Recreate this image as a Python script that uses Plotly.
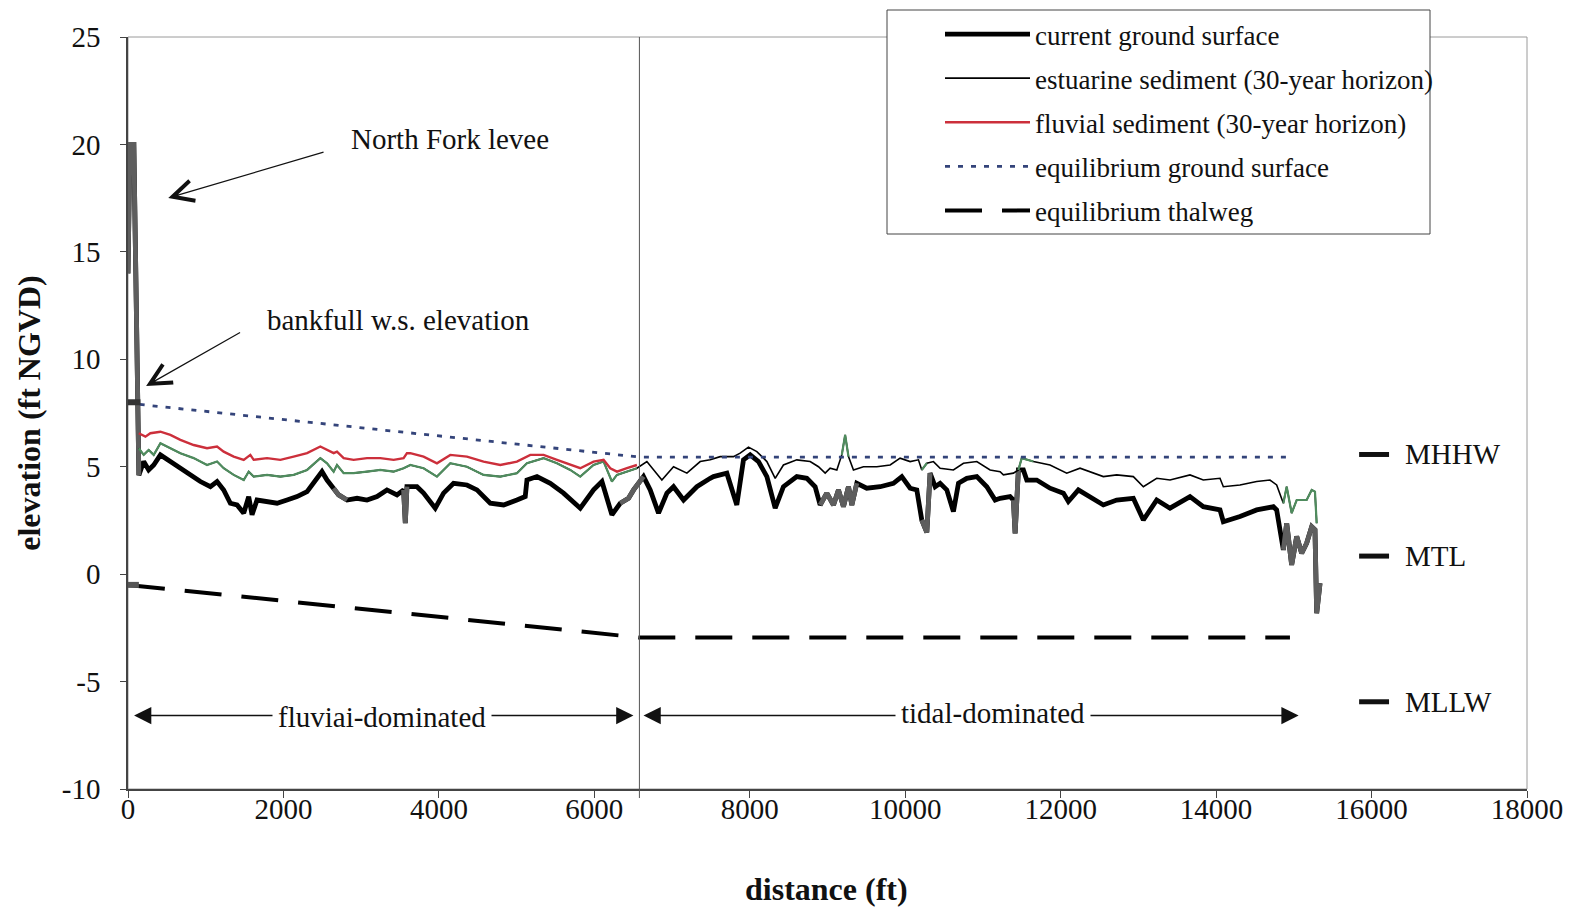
import plotly.graph_objects as go

# ---------------- data ----------------
dist_ground = [0, 25, 75, 105, 125, 140, 202, 266, 331, 417, 545, 674, 803, 931, 1060, 1146, 1231, 1317,
               1403, 1489, 1553, 1596, 1660, 1789, 1918, 2046, 2175, 2304, 2389, 2496, 2561, 2646, 2710,
               2818, 2947, 3075, 3204, 3332, 3461, 3546, 3568, 3589, 3718, 3803, 3953, 4060, 4189, 4361,
               4490, 4661, 4833, 5004, 5111, 5133, 5262, 5433, 5604, 5819, 5990, 6098, 6162, 6226, 6333,
               6440, 6505, 6633, 6719, 6826, 6934, 7019, 7148, 7319, 7491, 7533, 7705, 7833, 7919, 8005,
               8112, 8220, 8327, 8433, 8605, 8734, 8841, 8905, 8991, 9077, 9141, 9205, 9270, 9313, 9377,
               9505, 9677, 9848, 9956, 10063, 10149, 10213, 10278, 10320, 10385, 10449, 10535, 10620,
               10685, 10792, 10921, 11050, 11157, 11221, 11349, 11392, 11414, 11456, 11520, 11564, 11692,
               11863, 12035, 12099, 12228, 12378, 12549, 12721, 12935, 13064, 13236, 13407, 13664, 13835,
               14050, 14093, 14307, 14522, 14736, 14779, 14865, 14908, 14972, 15037, 15101, 15165, 15230,
               15272, 15294, 15337]
elev_ground = [14.0, 20.0, 20.0, 14.0, 8.0, 4.6, 5.24, 4.85, 5.08, 5.55, 5.24, 4.93, 4.62, 4.31, 4.07, 4.31,
               3.92, 3.30, 3.22, 2.84, 3.61, 2.76, 3.45, 3.38, 3.30, 3.45, 3.61, 3.84, 4.23, 4.77, 4.38,
               4.00, 3.69, 3.45, 3.53, 3.45, 3.61, 3.92, 3.69, 3.92, 2.37, 4.07, 4.07, 3.77, 3.07, 3.77,
               4.23, 4.15, 3.92, 3.30, 3.22, 3.45, 3.61, 4.38, 4.54, 4.23, 3.77, 3.07, 3.92, 4.31, 3.61,
               2.76, 3.30, 3.53, 3.92, 4.54, 3.92, 2.84, 3.77, 4.07, 3.45, 4.07, 4.46, 4.54, 4.70, 3.22,
               5.32, 5.55, 5.24, 4.54, 3.07, 4.07, 4.54, 4.46, 4.07, 3.22, 3.77, 3.22, 3.92, 3.14, 4.07,
               3.22, 4.23, 4.00, 4.07, 4.23, 4.54, 4.00, 3.92, 2.52, 1.95, 4.70, 4.07, 4.23, 3.92, 2.91,
               4.23, 4.46, 4.54, 4.07, 3.45, 3.53, 3.61, 3.45, 1.90, 4.85, 4.85, 4.38, 4.38, 4.00, 3.77,
               3.38, 3.92, 3.61, 3.22, 3.45, 3.53, 2.52, 3.45, 3.07, 3.61, 3.14, 2.99, 2.44, 2.68, 2.99,
               3.14, 2.99, 1.13, 2.37, 0.43, 1.75, 0.97, 1.44, 2.21, 2.06, -1.82, -0.42]

dist_estuarine = [138, 202, 266, 331, 417, 545, 674, 845, 1017, 1146, 1231, 1360, 1489, 1553, 1617, 1789,
                  1960, 2131, 2304, 2475, 2561, 2646, 2689, 2775, 2903, 3075, 3246, 3418, 3546, 3632, 3803,
                  3975, 4147, 4361, 4575, 4790, 5004, 5133, 5347, 5519, 5690, 5819, 5990, 6119, 6226, 6291,
                  6419, 6548, 6676, 6805, 6869, 7019, 7191, 7362, 7491, 7619, 7790, 7876, 7983, 8091, 8220,
                  8327, 8433, 8605, 8777, 8884, 8970, 9034, 9120, 9184, 9227, 9270, 9334, 9462, 9634, 9806,
                  9934, 10063, 10170, 10213, 10278, 10363, 10449, 10620, 10749, 10921, 11092, 11221, 11263,
                  11392, 11456, 11499, 11649, 11863, 12078, 12249, 12378, 12549, 12721, 12935, 13064, 13236,
                  13407, 13664, 13835, 14050, 14093, 14307, 14522, 14693, 14779, 14865, 14908, 14972, 15037,
                  15165, 15230, 15272, 15294]
elev_estuarine = [5.86, 5.55, 5.78, 5.55, 6.09, 5.86, 5.63, 5.40, 5.08, 5.24, 4.93, 4.62, 4.38, 4.77, 4.54,
                  4.62, 4.54, 4.62, 4.85, 5.40, 5.16, 4.77, 5.08, 4.70, 4.70, 4.77, 4.85, 4.77, 4.93, 5.08,
                  4.93, 4.54, 5.16, 5.00, 4.62, 4.54, 4.70, 5.16, 5.40, 5.16, 4.85, 4.54, 5.08, 5.24, 4.31,
                  4.62, 4.77, 4.93, 5.24, 4.70, 4.38, 5.00, 4.70, 5.24, 5.32, 5.47, 5.47, 5.63, 5.91, 5.70,
                  5.24, 4.46, 5.08, 5.32, 5.24, 5.00, 4.70, 4.93, 4.85, 5.55, 6.48, 5.47, 4.85, 5.00, 5.00,
                  5.08, 5.40, 5.24, 5.32, 4.85, 5.16, 5.24, 4.93, 4.85, 5.16, 5.24, 4.85, 4.77, 4.62, 4.70,
                  4.85, 5.40, 5.24, 5.08, 4.70, 4.93, 4.77, 4.54, 4.62, 4.54, 4.07, 4.46, 4.38, 4.62, 4.38,
                  4.46, 4.07, 4.15, 4.31, 4.38, 4.15, 3.30, 4.07, 2.84, 3.45, 3.45, 3.92, 3.84, 2.37]

dist_fluvial = [138, 224, 288, 417, 545, 674, 845, 1017, 1146, 1231, 1360, 1489, 1574, 1617, 1789, 1960,
                2131, 2304, 2475, 2561, 2646, 2689, 2775, 2903, 3075, 3246, 3418, 3546, 3589, 3632, 3803,
                3975, 4147, 4361, 4575, 4790, 5004, 5176, 5347, 5519, 5690, 5819, 5990, 6119, 6205, 6291,
                6419, 6548]
elev_fluvial = [6.56, 6.40, 6.56, 6.63, 6.48, 6.25, 6.01, 5.86, 5.94, 5.70, 5.47, 5.32, 5.55, 5.32, 5.40,
                5.32, 5.47, 5.63, 5.94, 5.78, 5.63, 5.70, 5.40, 5.32, 5.40, 5.40, 5.32, 5.40, 5.63, 5.63,
                5.47, 5.16, 5.55, 5.47, 5.24, 5.08, 5.24, 5.55, 5.55, 5.32, 5.08, 4.93, 5.24, 5.32, 4.93,
                4.77, 4.93, 5.08]

dist_equil_surface = [150, 6580, 14950]
elev_equil_surface = [7.9, 5.45, 5.45]

dist_thalweg = [0, 6580, 14950]
elev_thalweg = [-0.5, -2.95, -2.95]

dist_bankfull = [0, 160]
elev_bankfull = [8.0, 8.0]

tide_names = ["MHHW", "MTL", "MLLW"]
tide_elev = [5.57, 0.84, -5.94]
tide_dist = [15840, 16225]
tide_label_dist = 16400

zone_boundary = 6580
x_ticks = list(range(0, 18001, 2000))
y_ticks = list(range(-10, 26, 5))

# style windows (ranges where the scanned lines look gray / green)
gray_windows = [(0, 140), (2640, 2900), (3540, 3600), (6300, 6650), (7780, 7900),
                (8880, 9400), (10150, 10330), (11380, 11460), (14850, 15400)]
green_windows = [(0, 6560), (9150, 9300), (10190, 10300), (11440, 11700), (14860, 15300)]

FONT = "Liberation Serif"
INK = "#111111"

FIG_W, FIG_H = 1576, 910
M_L, M_R, M_T, M_B = 128, 49, 37, 121
PLOT_W = FIG_W - M_L - M_R
PLOT_H = FIG_H - M_T - M_B


def masked(xs, ys, windows):
    out = []
    for x, y in zip(xs, ys):
        out.append(y if any(a <= x <= b for a, b in windows) else None)
    return out


fig = go.Figure()

# current ground surface
fig.add_trace(go.Scatter(x=dist_ground, y=elev_ground, mode="lines",
                         line=dict(color="#000000", width=4.8),
                         name="current ground surface", legendgroup="g1"))
fig.add_trace(go.Scatter(x=dist_ground, y=masked(dist_ground, elev_ground, gray_windows), mode="lines",
                         line=dict(color="#5e5e5e", width=4.8), showlegend=False, hoverinfo="skip"))

# estuarine sediment
fig.add_trace(go.Scatter(x=dist_estuarine, y=elev_estuarine, mode="lines",
                         line=dict(color="#000000", width=1.6),
                         name="estuarine sediment (30-year horizon)", legendgroup="g2"))
fig.add_trace(go.Scatter(x=dist_estuarine, y=masked(dist_estuarine, elev_estuarine, green_windows),
                         mode="lines", line=dict(color="#4f8c5e", width=2.2),
                         showlegend=False, hoverinfo="skip"))

# fluvial sediment
fig.add_trace(go.Scatter(x=dist_fluvial, y=elev_fluvial, mode="lines",
                         line=dict(color="#cc2f3b", width=2.4),
                         name="fluvial sediment (30-year horizon)", legendgroup="g3"))

# equilibrium ground surface
fig.add_trace(go.Scatter(x=dist_equil_surface, y=elev_equil_surface, mode="lines",
                         line=dict(color="#34447a", width=2.8, dash="5px,8px"),
                         name="equilibrium ground surface", legendgroup="g4"))

# equilibrium thalweg
fig.add_trace(go.Scatter(x=dist_thalweg, y=elev_thalweg, mode="lines",
                         line=dict(color="#000000", width=4, dash="37px,20px"),
                         name="equilibrium thalweg", legendgroup="g5"))
fig.add_trace(go.Scatter(x=[dist_thalweg[0], 140], y=[elev_thalweg[0], elev_thalweg[0]], mode="lines",
                         line=dict(color="#555555", width=6), showlegend=False, hoverinfo="skip"))

# bankfull marker
fig.add_trace(go.Scatter(x=dist_bankfull, y=elev_bankfull, mode="lines",
                         line=dict(color="#333333", width=6), showlegend=False, hoverinfo="skip"))

# tide levels
for name, lev in zip(tide_names, tide_elev):
    fig.add_trace(go.Scatter(x=tide_dist, y=[lev, lev], mode="lines",
                             line=dict(color="#111111", width=5), showlegend=False,
                             hoverinfo="skip", cliponaxis=False))


def px_x(p):  # page pixel -> paper x
    return (p - M_L) / PLOT_W


def px_y(p):  # page pixel -> paper y
    return (M_T + PLOT_H - p) / PLOT_H


shapes = [
    dict(type="rect", xref="paper", yref="paper", x0=0, x1=1, y0=0, y1=1,
         line=dict(color="#9a9a9a", width=1), layer="below"),
    dict(type="line", xref="x", yref="paper", x0=zone_boundary, x1=zone_boundary, y0=-0.012, y1=1,
         line=dict(color="#555555", width=1)),
    dict(type="rect", xref="paper", yref="paper", x0=px_x(887), x1=px_x(1430), y0=px_y(234), y1=px_y(10),
         line=dict(color="#444444", width=1), fillcolor="white", layer="above"),
]

ann = []
af = dict(family=FONT, size=29, color=INK)
ann.append(dict(x=4138, y=20.23, text="North Fork levee", showarrow=False, font=af))
ann.append(dict(x=518, y=17.51, ax=2535, ay=19.66, axref="x", ayref="y", text="", showarrow=True,
                arrowhead=5, arrowsize=3.4, arrowwidth=1.2, arrowcolor=INK))
ann.append(dict(x=3480, y=11.85, text="bankfull w.s. elevation", showarrow=False, font=af))
ann.append(dict(x=233, y=8.76, ax=1461, ay=11.29, axref="x", ayref="y", text="", showarrow=True,
                arrowhead=5, arrowsize=3.4, arrowwidth=1.2, arrowcolor=INK))
for tip, mid in [(78, 3290), (6503, 3290), (6633, 10850), (15062, 10850)]:
    ann.append(dict(x=tip, y=-6.58, ax=mid, ay=-6.58, axref="x", ayref="y", text="", showarrow=True,
                    arrowhead=2, arrowsize=2.3, arrowwidth=1.5, arrowcolor=INK))
ann.append(dict(x=3272, y=-6.63, text="fluviai-dominated", showarrow=False, font=af,
                bgcolor="white", borderpad=5))
ann.append(dict(x=11135, y=-6.45, text="tidal-dominated", showarrow=False, font=af,
                bgcolor="white", borderpad=5))
for name, lev in zip(tide_names, tide_elev):
    ann.append(dict(x=tide_label_dist, y=lev, text=name, showarrow=False, xanchor="left", font=af))
# x-axis title (placed as paper annotation)
ann.append(dict(xref="paper", yref="paper", x=px_x(826), y=px_y(889), xanchor="center",
                yanchor="middle", text="<b>distance (ft)</b>", showarrow=False,
                font=dict(family=FONT, size=32, color=INK)))

fig.update_layout(
    width=FIG_W, height=FIG_H,
    margin=dict(l=M_L, r=M_R, t=M_T, b=M_B, autoexpand=False),
    paper_bgcolor="white", plot_bgcolor="white",
    font=dict(family=FONT, size=27, color=INK),
    showlegend=True,
    legend=dict(x=px_x(940), y=px_y(10), xanchor="left", yanchor="top",
                bgcolor="rgba(0,0,0,0)", borderwidth=0, font=dict(family=FONT, size=27, color=INK),
                itemwidth=85, tracegroupgap=6, traceorder="grouped"),
    shapes=shapes,
    annotations=ann,
)

fig.update_xaxes(range=[0, 18000], tickvals=x_ticks, ticktext=[str(v) for v in x_ticks],
                 showgrid=False, zeroline=False, showline=True, linecolor="#444444", linewidth=1.5,
                 ticks="outside", ticklen=7, tickcolor="#444444", ticklabelstandoff=-14,
                 tickfont=dict(family=FONT, size=29, color=INK))
fig.update_yaxes(range=[-10, 25], tickvals=y_ticks, ticktext=[str(v) for v in y_ticks],
                 showgrid=False, zeroline=False, showline=True, linecolor="#444444", linewidth=1.5,
                 ticks="outside", ticklen=6, tickcolor="#444444", ticklabelstandoff=14,
                 tickfont=dict(family=FONT, size=29, color=INK),
                 title=dict(text="<b>elevation (ft NGVD)</b>", font=dict(family=FONT, size=32, color=INK),
                            standoff=12))

# remove the default 8px page margin so the figure fills the window exactly
fig.write_html("out.html", config={"displayModeBar": False},
               post_script="document.body.style.margin='0';document.body.style.overflow='hidden';")
